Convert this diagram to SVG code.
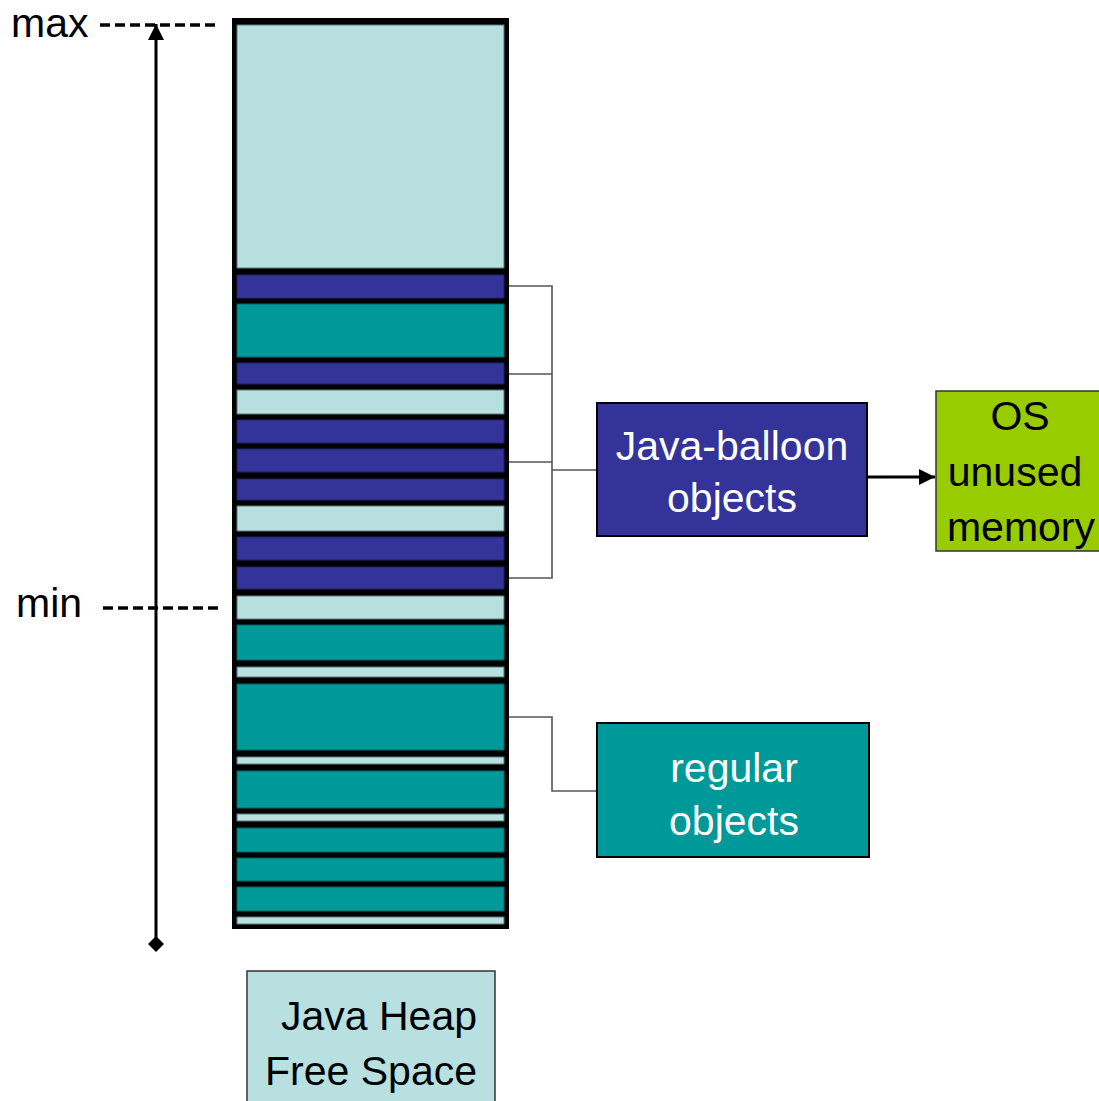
<svg xmlns="http://www.w3.org/2000/svg" width="1099" height="1101" viewBox="0 0 1099 1101">
  <defs>
    <marker id="tri" viewBox="0 0 10 10" refX="10" refY="5" markerWidth="16" markerHeight="16" markerUnits="userSpaceOnUse" orient="auto">
      <path d="M0,0 L10,5 L0,10 z" fill="#000"/>
    </marker>
    <marker id="diamond" viewBox="0 0 10 10" refX="5" refY="5" markerWidth="16" markerHeight="16" markerUnits="userSpaceOnUse" orient="auto">
      <path d="M0,5 L5,0 L10,5 L5,10 z" fill="#000"/>
    </marker>
  </defs>
  <style>
    .free { fill: #b8e0e0; stroke: #5a7a7a; stroke-width: 1; }
    .reg { fill: #009999; stroke: #006666; stroke-width: 1; }
    .bal { fill: #333399; stroke: #22226a; stroke-width: 1; }
    .lbl { font-family: "Liberation Sans", Arial, sans-serif; font-size: 41px; }
    .bracket { fill: none; stroke: #555; stroke-width: 1.6; }
    .dash { stroke: #000; stroke-width: 3.5; stroke-dasharray: 10 5; }
  </style>
  <rect width="1099" height="1101" fill="#fff"/>

  <!-- heap column -->
  <g id="heap">
    <rect x="232" y="18" width="277" height="911" fill="#000"/>
    <rect class="free" x="237" y="25" width="267" height="243"/>
    <rect class="bal" x="237" y="275" width="267" height="23"/>
    <rect class="reg" x="237" y="304" width="267" height="53"/>
    <rect class="bal" x="237" y="363" width="267" height="21"/>
    <rect class="free" x="237" y="390" width="267" height="24"/>
    <rect class="bal" x="237" y="420" width="267" height="23"/>
    <rect class="bal" x="237" y="449" width="267" height="23"/>
    <rect class="bal" x="237" y="479" width="267" height="21"/>
    <rect class="free" x="237" y="506" width="267" height="25"/>
    <rect class="bal" x="237" y="537" width="267" height="23"/>
    <rect class="bal" x="237" y="567" width="267" height="22"/>
    <rect class="free" x="237" y="596" width="267" height="23"/>
    <rect class="reg" x="237" y="625" width="267" height="35"/>
    <rect class="free" x="237" y="667" width="267" height="10"/>
    <rect class="reg" x="237" y="684" width="267" height="66"/>
    <rect class="free" x="237" y="757" width="267" height="7"/>
    <rect class="reg" x="237" y="771" width="267" height="37"/>
    <rect class="free" x="237" y="814" width="267" height="7"/>
    <rect class="reg" x="237" y="828" width="267" height="24"/>
    <rect class="reg" x="237" y="858" width="267" height="23"/>
    <rect class="reg" x="237" y="887" width="267" height="24"/>
    <rect class="free" x="237" y="917" width="267" height="7"/>
  </g>

  <!-- size axis with max / min marks -->
  <g id="axis">
    <line class="dash" x1="100" y1="25" x2="220" y2="25"/>
    <line class="dash" x1="103" y1="608" x2="222" y2="608"/>
    <line x1="156" y1="944" x2="156" y2="24" stroke="#000" stroke-width="3" marker-end="url(#tri)" marker-start="url(#diamond)"/>
    <text class="lbl" x="11" y="37">max</text>
    <text class="lbl" x="16" y="617">min</text>
  </g>

  <!-- connectors -->
  <g id="connectors">
    <path class="bracket" d="M509,286 H552 V578 H509 M509,374 H552 M509,462 H552 M552,470 H597"/>
    <path class="bracket" d="M509,717 H552 V791 H597"/>
    <line x1="867" y1="477" x2="935" y2="477" stroke="#000" stroke-width="3" marker-end="url(#tri)"/>
  </g>

  <g id="balloon">
    <rect x="597" y="403" width="270" height="133" fill="#333399" stroke="#000" stroke-width="2"/>
    <text class="lbl" x="732" y="460" text-anchor="middle" fill="#fff">Java-balloon</text>
    <text class="lbl" x="732" y="512" text-anchor="middle" fill="#fff">objects</text>
  </g>

  <g id="os-memory">
    <rect x="936" y="391" width="170" height="160" fill="#99cc00" stroke="#333" stroke-width="1.5"/>
    <text class="lbl" x="1020" y="430" text-anchor="middle" fill="#000">OS</text>
    <text class="lbl" x="1015" y="486" text-anchor="middle" fill="#000">unused</text>
    <text class="lbl" x="1021" y="541" text-anchor="middle" fill="#000">memory</text>
  </g>

  <g id="regular">
    <rect x="597" y="723" width="272" height="134" fill="#009999" stroke="#000" stroke-width="2"/>
    <text class="lbl" x="734" y="782" text-anchor="middle" fill="#fff">regular</text>
    <text class="lbl" x="734" y="835" text-anchor="middle" fill="#fff">objects</text>
  </g>

  <g id="free-space">
    <rect x="247" y="971" width="248" height="140" fill="#b8e0e0" stroke="#333" stroke-width="1.5"/>
    <text class="lbl" x="477" y="1030" text-anchor="end" fill="#000">Java Heap</text>
    <text class="lbl" x="477" y="1085" text-anchor="end" fill="#000">Free Space</text>
  </g>
</svg>
